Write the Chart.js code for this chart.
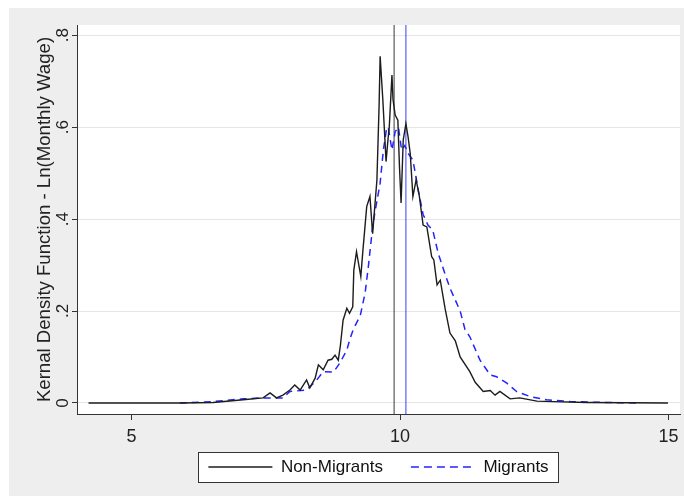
<!DOCTYPE html>
<html>
<head>
<meta charset="utf-8">
<script src="https://cdn.jsdelivr.net/npm/chart.js@4.4.1/dist/chart.umd.min.js"></script>
<style>
  html, body { margin: 0; padding: 0; background: #fff; }
  #chart { display: block; }
</style>
</head>
<body>
<canvas id="chart" width="684" height="501"></canvas>
<script>
// Kernel density of ln(monthly wage)
const nonMigrantX = [4.20, 5.90, 6.52, 7.08, 7.45, 7.58, 7.70, 7.82, 7.95, 8.04, 8.14, 8.26, 8.32, 8.42, 8.48, 8.57, 8.66, 8.73, 8.79, 8.85, 8.89, 8.94, 9.01, 9.06, 9.12, 9.14, 9.19, 9.27, 9.31, 9.38, 9.44, 9.49, 9.57, 9.61, 9.63, 9.68, 9.74, 9.78, 9.80, 9.85, 9.87, 9.91, 9.96, 9.99, 10.02, 10.06, 10.11, 10.15, 10.19, 10.24, 10.30, 10.36, 10.43, 10.50, 10.59, 10.63, 10.69, 10.75, 10.84, 10.93, 11.03, 11.12, 11.30, 11.40, 11.55, 11.68, 11.77, 11.86, 12.05, 12.23, 12.55, 12.85, 13.48, 14.99];
const nonMigrantY = [0.000, 0.000, 0.001, 0.007, 0.011, 0.022, 0.011, 0.017, 0.028, 0.039, 0.028, 0.050, 0.033, 0.054, 0.083, 0.072, 0.093, 0.095, 0.104, 0.093, 0.125, 0.180, 0.206, 0.195, 0.209, 0.289, 0.329, 0.275, 0.333, 0.427, 0.449, 0.368, 0.485, 0.644, 0.754, 0.660, 0.525, 0.578, 0.600, 0.713, 0.660, 0.626, 0.615, 0.514, 0.435, 0.572, 0.607, 0.579, 0.543, 0.449, 0.485, 0.450, 0.387, 0.383, 0.318, 0.311, 0.257, 0.267, 0.205, 0.152, 0.135, 0.100, 0.068, 0.045, 0.025, 0.027, 0.017, 0.025, 0.009, 0.011, 0.004, 0.003, 0.001, 0.000];

const migrantX = [5.90, 6.50, 7.08, 7.45, 7.82, 7.95, 8.26, 8.45, 8.57, 8.76, 8.88, 9.01, 9.07, 9.13, 9.26, 9.35, 9.41, 9.49, 9.53, 9.63, 9.69, 9.75, 9.78, 9.85, 9.91, 9.97, 10.03, 10.09, 10.15, 10.24, 10.28, 10.34, 10.43, 10.52, 10.61, 10.71, 10.84, 10.93, 11.12, 11.21, 11.30, 11.49, 11.68, 11.80, 11.99, 12.17, 12.42, 12.73, 13.17, 13.85, 14.41];
const migrantY = [0.000, 0.003, 0.009, 0.011, 0.011, 0.025, 0.028, 0.050, 0.068, 0.067, 0.087, 0.115, 0.140, 0.160, 0.190, 0.239, 0.296, 0.383, 0.413, 0.478, 0.550, 0.597, 0.600, 0.550, 0.590, 0.600, 0.550, 0.560, 0.543, 0.528, 0.503, 0.463, 0.410, 0.387, 0.376, 0.326, 0.280, 0.250, 0.200, 0.160, 0.144, 0.093, 0.061, 0.057, 0.043, 0.025, 0.014, 0.007, 0.003, 0.001, 0.000];

// vertical reference lines (group means)
const meanNonMigrant = 9.89;
const meanMigrant = 10.11;

const xTicks = [5, 10, 15];
const xTickLabels = ['5', '10', '15'];
const yTicks = [0, 0.2, 0.4, 0.6, 0.8];
const yTickLabels = ['0', '.2', '.4', '.6', '.8'];
const xMin = 3.985, xMax = 15.214;
const yMin = -0.024, yMax = 0.822;

const FONT = '"Liberation Sans", Arial, sans-serif';
const toPoints = (xs, ys) => xs.map((x, i) => ({ x: x, y: ys[i] }));

// gray Stata frame, white plot region, boxed legend, tick labels
const stataFrame = {
  id: 'stataFrame',
  beforeDraw(chart) {
    const { ctx, chartArea: a, legend } = chart;
    ctx.save();
    ctx.fillStyle = '#ffffff';
    ctx.fillRect(0, 0, chart.width, chart.height);
    ctx.fillStyle = '#eeeeee';
    ctx.fillRect(9, 8, chart.width - 9, 488);
    ctx.fillStyle = '#ffffff';
    ctx.fillRect(a.left, a.top, a.right - a.left, a.bottom - a.top);

    const boxes = legend.legendHitBoxes;
    if (boxes && boxes.length) {
      const first = boxes[0];
      const last = boxes[boxes.length - 1];
      const cy = first.top + first.height / 2;
      const x0 = Math.round(first.left - 10) + 0.5;
      const x1 = Math.round(last.left + last.width + 9) + 0.5;
      const y0 = Math.round(cy - 15) + 0.5;
      ctx.fillRect(x0, y0, x1 - x0, 30);
      ctx.strokeStyle = '#333333';
      ctx.lineWidth = 1;
      ctx.strokeRect(x0, y0, x1 - x0, 30);
    }
    ctx.restore();
  },
  afterDraw(chart) {
    const { ctx } = chart;
    const { x, y } = chart.scales;
    ctx.save();
    ctx.fillStyle = '#222222';
    ctx.textAlign = 'center';
    ctx.textBaseline = 'alphabetic';

    // y labels run bottom-to-top, as Stata draws them
    ctx.font = '17px ' + FONT;
    yTicks.forEach((v, i) => {
      ctx.save();
      ctx.translate(68, y.getPixelForValue(v));
      ctx.rotate(-Math.PI / 2);
      ctx.fillText(yTickLabels[i], 0, 0);
      ctx.restore();
    });

    ctx.font = '18px ' + FONT;
    xTicks.forEach((v, i) => {
      ctx.fillText(xTickLabels[i], x.getPixelForValue(v), 441.5);
    });
    ctx.restore();
  }
};

const ctx = document.getElementById('chart').getContext('2d');

new Chart(ctx, {
  type: 'line',
  data: {
    datasets: [{
      label: 'Non-Migrants',
      data: toPoints(nonMigrantX, nonMigrantY),
      borderColor: '#1c1c1c',
      borderWidth: 1.4,
      pointRadius: 0,
      tension: 0
    }, {
      label: 'Migrants',
      data: toPoints(migrantX, migrantY),
      borderColor: '#2323ff',
      borderWidth: 1.5,
      borderDash: [7, 5],
      pointRadius: 0,
      tension: 0
    }, {
      label: 'meanNonMigrant',
      data: [{ x: meanNonMigrant, y: yMin }, { x: meanNonMigrant, y: yMax }],
      borderColor: '#3a3a3a',
      borderWidth: 1,
      pointRadius: 0
    }, {
      label: 'meanMigrant',
      data: [{ x: meanMigrant, y: yMin }, { x: meanMigrant, y: yMax }],
      borderColor: '#3c3cf5',
      borderWidth: 1,
      pointRadius: 0
    }]
  },
  options: {
    responsive: false,
    animation: false,
    devicePixelRatio: 1,
    layout: { padding: { left: 0, right: 4, top: 25, bottom: 15.5 } },
    scales: {
      x: {
        type: 'linear',
        min: xMin,
        max: xMax,
        afterBuildTicks: s => { s.ticks = xTicks.map(v => ({ value: v })); },
        afterFit: s => { s.height = 16.5; },
        grid: { drawOnChartArea: false, drawTicks: true, tickLength: 6, tickColor: '#333333' },
        border: { display: true, color: '#333333', width: 1 },
        ticks: { display: false }
      },
      y: {
        type: 'linear',
        min: yMin,
        max: yMax,
        afterBuildTicks: s => { s.ticks = yTicks.map(v => ({ value: v })); },
        afterFit: s => { s.width = 77; },
        grid: { color: '#e6e6e6', lineWidth: 1, drawTicks: true, tickLength: 5, tickColor: '#333333' },
        border: { display: true, color: '#333333', width: 1 },
        ticks: { display: false },
        title: {
          display: true,
          text: 'Kernal Density Function - Ln(Monthly Wage)',
          font: { size: 18.6, family: FONT },
          color: '#222222',
          padding: { top: 33.5, bottom: 0 }
        }
      }
    },
    plugins: {
      legend: {
        position: 'bottom',
        fullSize: false,
        labels: {
          usePointStyle: true,
          pointStyle: 'line',
          pointStyleWidth: 64,
          font: { size: 17, family: FONT },
          color: '#111111',
          padding: 28,
          // point-style items take the point's style, so copy the line's dash and width back
          generateLabels: chart => Chart.defaults.plugins.legend.labels.generateLabels(chart).map(item => {
            const ds = chart.data.datasets[item.datasetIndex];
            item.lineDash = ds.borderDash ? [8, 5] : [];
            item.lineWidth = ds.borderWidth;
            item.strokeStyle = ds.borderColor;
            return item;
          }),
          filter: item => item.datasetIndex < 2
        }
      },
      tooltip: { enabled: false }
    }
  },
  plugins: [stataFrame]
});
</script>
</body>
</html>
